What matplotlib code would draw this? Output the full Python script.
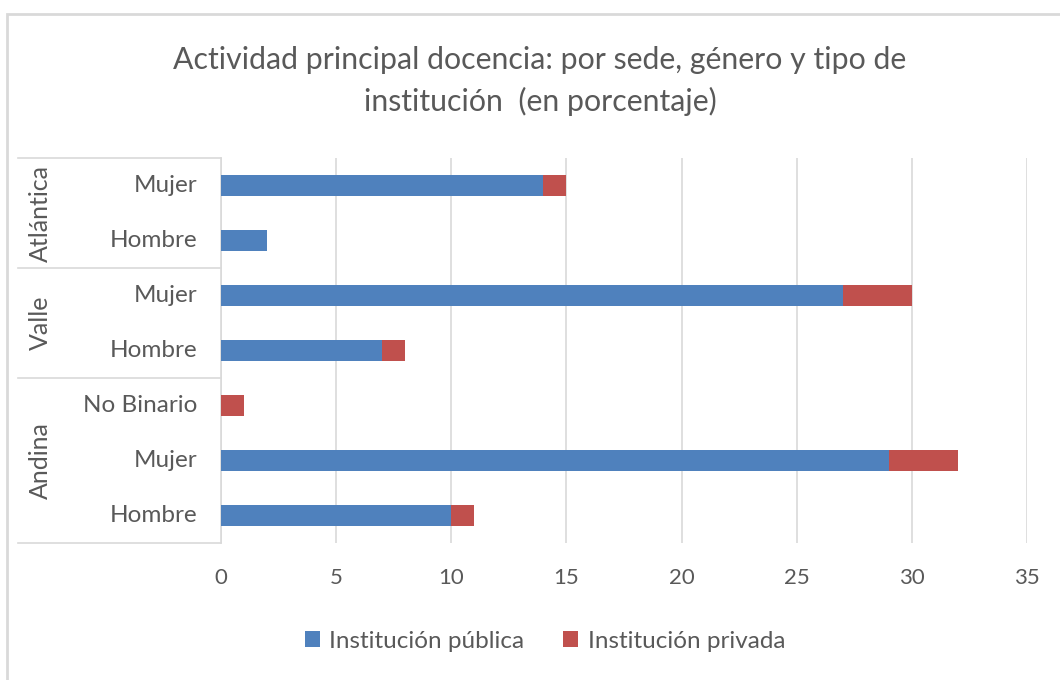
import matplotlib
matplotlib.use('Agg')
import matplotlib.pyplot as plt
import matplotlib.transforms as mtransforms
import numpy as np

# data, top to bottom as in the chart
sedes = ['Atlántica', 'Valle', 'Andina']
sede_rows = [2, 2, 3]  # number of bars per sede
generos = ['Mujer', 'Hombre', 'Mujer', 'Hombre', 'No Binario', 'Mujer', 'Hombre']
publica = [14, 2, 27, 7, 0, 29, 10]
privada = [1, 0, 3, 1, 1, 3, 1]
xticks = [0, 5, 10, 15, 20, 25, 30, 35]

azul = '#4F81BD'
rojo = '#C0504D'
gris = '#595959'
linea = '#D9D9D9'

plt.rcParams['font.family'] = ['Lato', 'DejaVu Sans']

fig = plt.figure(figsize=(10.6, 6.8), dpi=100)
ax = fig.add_axes([221/1060, 1 - 543/680, (1027-221)/1060, (543-158)/680])

y = np.arange(len(generos))
ax.barh(y, publica, height=0.38, color=azul, label='Institución pública', zorder=3)
ax.barh(y, privada, left=publica, height=0.38, color=rojo, label='Institución privada', zorder=3)

ax.set_xlim(0, 35)
ax.set_ylim(len(generos) - 0.5, -0.5)
ax.set_xticks(xticks)
ax.set_xticklabels([str(t) for t in xticks])
ax.set_yticks([])
ax.tick_params(axis='x', length=0, pad=18, labelsize=16, labelcolor=gris)
ax.grid(axis='x', color=linea, linewidth=1.2, zorder=0)
for s in ['top', 'right', 'bottom']:
    ax.spines[s].set_visible(False)
ax.spines['left'].set_color(linea)
ax.spines['left'].set_linewidth(1.2)

# category table on the left
trans = mtransforms.blended_transform_factory(ax.transAxes, ax.transData)
x_izq = (18 - 221) / (1027 - 221)
for i, g in enumerate(generos):
    ax.text((197 - 221) / (1027 - 221), i, g, transform=trans, ha='right', va='center',
            fontsize=17.5, color=gris)
bordes = [-0.5]
for n in sede_rows:
    bordes.append(bordes[-1] + n)
for b in bordes:
    ax.plot([x_izq, 0], [b, b], transform=trans, color=linea, linewidth=1.2, clip_on=False)
for k, sede in enumerate(sedes):
    centro = (bordes[k] + bordes[k + 1]) / 2
    ax.text((40 - 221) / (1027 - 221), centro, sede, transform=trans, rotation=90,
            ha='center', va='center', fontsize=18, color=gris)

fig.text(540/1060, 1 - 60/680, 'Actividad principal docencia: por sede, género y tipo de',
         ha='center', va='center', fontsize=21.8, color=gris)
fig.text(540/1060, 1 - 101/680, 'institución  (en porcentaje)',
         ha='center', va='center', fontsize=21.8, color=gris)

leg = fig.legend(loc='center', bbox_to_anchor=(545/1060, 1 - 641/680), ncol=2, frameon=False,
                 fontsize=17.5, handlelength=0.6, handleheight=0.6, columnspacing=1.6,
                 handletextpad=0.4)
for t in leg.get_texts():
    t.set_color(gris)

# outer chart border
fig.patches.append(plt.Rectangle((7/1060, -0.1), 1.2, 1 - 14/680 + 0.1, transform=fig.transFigure,
                                 fill=False, edgecolor=linea, linewidth=2))

fig.savefig('out.png', dpi=100, facecolor='white')
